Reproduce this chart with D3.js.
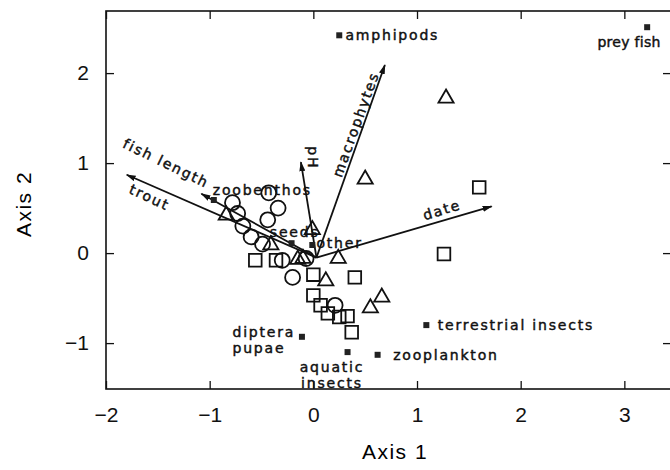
<!DOCTYPE html>
<html>
<head>
<meta charset="utf-8">
<script src="https://cdn.jsdelivr.net/npm/d3@7"></script>
<style>
  body { margin: 0; background: #fff; }
  .tick text { font-family: "Liberation Sans", Arial, sans-serif; font-size: 21px; fill: #111; }
  .lbl { font-family: "DejaVu Sans", sans-serif; font-size: 14px; letter-spacing: 1.8px; fill: #111; stroke: #111; stroke-width: 0.45; }
</style>
</head>
<body>
<div id="chart"></div>
<script>
// axis ticks
var xTicks = [-2, -1, 0, 1, 2, 3];
var yTicks = [-1, 0, 1, 2];

// site scores, one array per symbol group
var circleSites = [
  [-0.78, 0.56], [-0.73, 0.44], [-0.43, 0.67], [-0.34, 0.50], [-0.44, 0.37],
  [-0.68, 0.30], [-0.60, 0.18], [-0.49, 0.10], [-0.30, -0.08], [-0.07, -0.06],
  [-0.20, -0.27], [0.21, -0.58]
];
var triangleSites = [
  [-0.84, 0.42], [-0.41, 0.09], [-0.15, -0.07], [-0.10, -0.06], [-0.01, 0.26],
  [0.24, -0.06], [0.12, -0.31], [0.50, 0.82], [1.28, 1.72], [0.55, -0.61],
  [0.66, -0.49]
];
var squareSites = [
  [-0.56, -0.08], [-0.36, -0.08], [0.00, -0.24], [0.40, -0.27], [0.00, -0.47],
  [0.07, -0.58], [0.14, -0.67], [0.25, -0.71], [0.33, -0.70], [0.37, -0.88],
  [1.26, -0.01], [1.60, 0.73]
];

// prey categories (filled squares)
var preyNames = ["amphipods", "prey fish", "zoobenthos", "seeds", "other",
  "diptera\npupae", "aquatic\ninsects", "zooplankton", "terrestrial insects"];
var preyX = [0.25, 3.22, -0.96, -0.21, -0.01, -0.11, 0.33, 0.62, 1.09];
var preyY = [2.42, 2.51, 0.59, 0.11, 0.09, -0.93, -1.10, -1.13, -0.80];
// where the text sits, in axis units
var preyLabelX = [0.31, 2.74, -0.97, -0.18, 0.03, -0.78, 0.18, 0.77, 1.20];
var preyLabelY = [2.42, 2.34, 0.70, 0.23, 0.11, -0.88, -1.27, -1.13, -0.80];

// environmental vectors
var vecOrigin = [0.03, -0.05];
var vecNames = ["trout", "fish length", "pH", "macrophytes", "date"];
var vecX = [-1.80, -1.08, -0.12, 0.69, 1.72];
var vecY = [0.87, 0.66, 1.01, 2.09, 0.52];
var vecLabels = [
  {text: "fish length", x: -1.42, y: 1.00, angle: 26},
  {text: "trout", x: -1.58, y: 0.62, angle: 25},
  {text: "pH", x: 0.00, y: 1.06, angle: 90},
  {text: "macrophytes", x: 0.41, y: 1.43, angle: -70},
  {text: "date", x: 1.24, y: 0.48, angle: -17}
];

var width = 670, height = 470;
var plot = {left: 106, right: 671, top: 11, bottom: 389};

var svg = d3.select("#chart").append("svg")
  .attr("width", width)
  .attr("height", height);

var x = d3.scaleLinear().domain([-2, 3.45]).range([plot.left, plot.right]);
var y = d3.scaleLinear().domain([-1.51, 2.69]).range([plot.bottom, plot.top]);

// frame
svg.append("rect")
  .attr("x", plot.left).attr("y", plot.top)
  .attr("width", plot.right - plot.left).attr("height", plot.bottom - plot.top)
  .attr("fill", "none").attr("stroke", "#111").attr("stroke-width", 1.6);

var fmt = d => d < 0 ? "\u2212" + Math.abs(d) : String(d);

svg.append("g")
  .attr("transform", `translate(0,${plot.bottom})`)
  .call(d3.axisBottom(x).tickValues(xTicks).tickSize(-8).tickPadding(18).tickFormat(fmt));
svg.append("g")
  .attr("transform", `translate(${plot.left},0)`)
  .call(d3.axisLeft(y).tickValues(yTicks).tickSize(-8).tickPadding(17).tickFormat(fmt));
svg.append("g")
  .attr("transform", `translate(0,${plot.top})`)
  .call(d3.axisTop(x).tickValues(xTicks).tickSize(-8).tickFormat(""));
svg.append("g")
  .attr("transform", `translate(${plot.right},0)`)
  .call(d3.axisRight(y).tickValues(yTicks).tickSize(-8).tickFormat(""));

svg.selectAll(".domain").remove();
svg.selectAll(".tick line").attr("stroke", "#111").attr("stroke-width", 1.3);

// axis titles
svg.append("text")
  .attr("x", 395).attr("y", 459)
  .attr("text-anchor", "middle")
  .style("font-family", "Liberation Sans, Arial, sans-serif")
  .style("font-size", "21px").style("letter-spacing", "1.5px")
  .text("Axis 1");
svg.append("text")
  .attr("transform", "translate(31,204) rotate(-90)")
  .attr("text-anchor", "middle")
  .style("font-family", "Liberation Sans, Arial, sans-serif")
  .style("font-size", "21px").style("letter-spacing", "1.5px")
  .text("Axis 2");

// arrow head
svg.append("defs").append("marker")
  .attr("id", "head")
  .attr("viewBox", "0 0 10 6")
  .attr("refX", 9).attr("refY", 3)
  .attr("markerWidth", 10).attr("markerHeight", 6)
  .attr("markerUnits", "userSpaceOnUse")
  .attr("orient", "auto")
  .append("path")
  .attr("d", "M0,0L10,3L0,6Z")
  .attr("fill", "#111");

// site symbols
svg.append("g").selectAll("circle")
  .data(circleSites).enter().append("circle")
  .attr("cx", d => x(d[0])).attr("cy", d => y(d[1]))
  .attr("r", 7.5)
  .attr("fill", "none").attr("stroke", "#111").attr("stroke-width", 1.8);

svg.append("g").selectAll("path")
  .data(squareSites).enter().append("path")
  .attr("d", d3.symbol(d3.symbolSquare, 160))
  .attr("transform", d => `translate(${x(d[0])},${y(d[1])})`)
  .attr("fill", "none").attr("stroke", "#111").attr("stroke-width", 1.8);

svg.append("g").selectAll("path")
  .data(triangleSites).enter().append("path")
  .attr("d", d3.symbol(d3.symbolTriangle, 100))
  .attr("transform", d => `translate(${x(d[0])},${y(d[1])})`)
  .attr("fill", "none").attr("stroke", "#111").attr("stroke-width", 1.8);

// vectors
svg.append("g").selectAll("line")
  .data(vecNames).enter().append("line")
  .attr("x1", x(vecOrigin[0])).attr("y1", y(vecOrigin[1]))
  .attr("x2", (d, i) => x(vecX[i])).attr("y2", (d, i) => y(vecY[i]))
  .attr("stroke", "#111").attr("stroke-width", 1.8)
  .attr("marker-end", "url(#head)");

svg.append("g").selectAll("text")
  .data(vecLabels).enter().append("text")
  .attr("class", "lbl")
  .attr("transform", d => `translate(${x(d.x)},${y(d.y)}) rotate(${d.angle})`)
  .attr("text-anchor", "middle")
  .attr("dy", "0.35em")
  .text(d => d.text);

// prey categories
svg.append("g").selectAll("rect")
  .data(preyNames).enter().append("rect")
  .attr("x", (d, i) => x(preyX[i]) - 3).attr("y", (d, i) => y(preyY[i]) - 3)
  .attr("width", 6).attr("height", 6)
  .attr("fill", "#222");

var anchors = ["start", "start", "start", "middle", "start", "start", "middle", "start", "start"];
var preyText = svg.append("g").selectAll("text")
  .data(preyNames).enter().append("text")
  .attr("class", "lbl")
  .attr("x", (d, i) => x(preyLabelX[i]))
  .attr("y", (d, i) => y(preyLabelY[i]))
  .attr("text-anchor", (d, i) => anchors[i])
  // the right-hand label is squeezed so it stays inside the page
  .style("letter-spacing", d => d === "prey fish" ? "0.3px" : null);

preyText.each(function(d, i) {
  var lines = d.split("\n");
  var t = d3.select(this);
  lines.forEach((ln, j) => {
    t.append("tspan")
      .attr("x", x(preyLabelX[i]))
      .attr("dy", j === 0 ? "0.35em" : "1.1em")
      .text(ln);
  });
});
</script>
</body>
</html>
